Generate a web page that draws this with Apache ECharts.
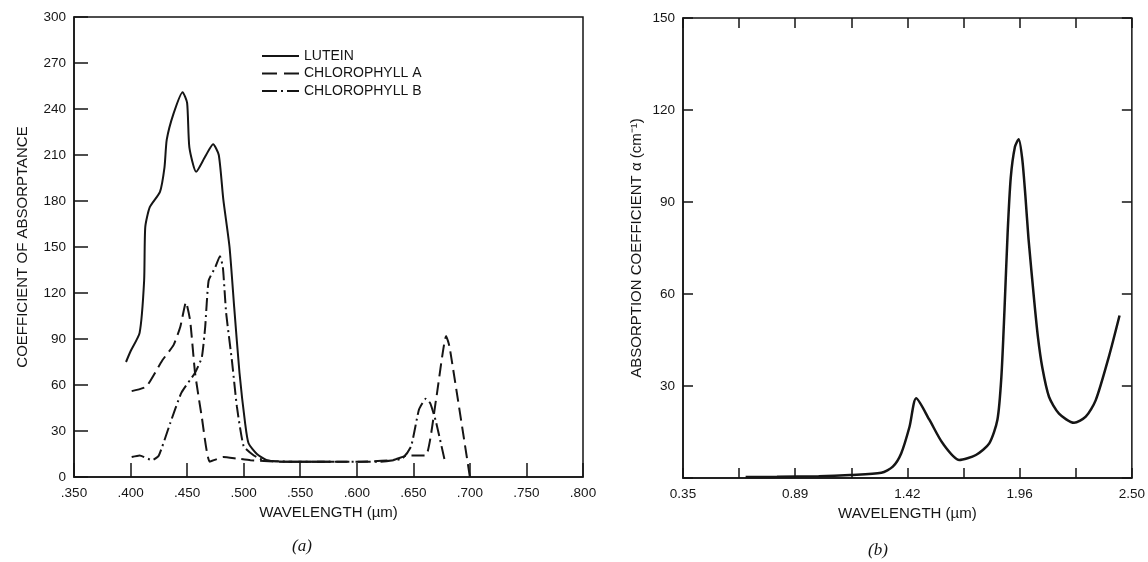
<!DOCTYPE html>
<html>
<head>
<meta charset="utf-8">
<script src="https://cdn.jsdelivr.net/npm/echarts@6/dist/echarts.min.js"></script>
<style>
  html, body { margin: 0; padding: 0; background: #fff; }
  #chart { width: 1148px; height: 562px; }
</style>
</head>
<body>
<div id="chart"></div>
<script>
"use strict";
/* ===== data ===== */
// (a) pigments: wavelength in um, coefficient of absorptance
const luteinX = [.396, .400, .408, .412, .413, .417, .426, .430, .432, .438, .446, .450, .452, .458, .466, .473, .478, .482, .4875, .4916, .4963, .5013, .5043, .5117, .5205, .540, .560, .580];
const luteinY = [75, 82, 94, 128, 163, 176, 186, 202, 220, 237, 251, 244, 215, 199, 209, 217, 210, 181, 150, 111, 68, 35, 22, 15, 11, 10, 10, 10];
const chlAX = [.401, .414, .428, .438, .444, .449, .4527, .457, .463, .470, .482, .494, .506, .530, .560, .600, .632, .645, .661, .670, .679, .682, .700];
const chlAY = [56, 59, 76, 86, 98, 114, 102, 68, 39, 10, 13, 12, 11, 10, 10, 10, 11, 14, 14, 50, 92, 85, 0];
const chlBX = [.401, .408, .419, .425, .435, .445, .457, .463, .466, .469, .475, .479, .4816, .4845, .4896, .494, .500, .509, .5175, .540, .580, .620, .640, .648, .655, .661, .665, .670, .678];
const chlBY = [13, 14, 11, 14, 35, 55, 68, 78, 98, 128, 137, 144, 137, 107, 76, 46, 20, 14, 11, 10, 10, 10, 12, 20, 44, 51, 48, 36, 10];
// (b) water absorption coefficient (cm^-1)
const waterX = [0.65, 0.80, 1.00, 1.15, 1.30, 1.355, 1.395, 1.435, 1.467, 1.53, 1.594, 1.673, 1.753, 1.817, 1.856, 1.875, 1.89, 1.905, 1.92, 1.94, 1.958, 1.975, 1.99, 2.005, 2.032, 2.05, 2.071, 2.103, 2.151, 2.223, 2.279, 2.327, 2.39, 2.441];
const waterY = [0.3, 0.4, 0.6, 1.0, 1.7, 3.7, 8, 16.7, 26, 19, 11.3, 5.9, 7.5, 11.3, 19, 33, 55, 80, 98, 108, 110.5, 104, 92, 78, 58, 46, 36, 26.5, 21, 18, 20, 25.4, 39.6, 53];
// tick labels of (b) x axis, one per two ticks
const waterTickLabels = ["0.35", "0.89", "1.42", "1.96", "2.50"];
const waterTickStep = 0.26875;

function Pairs(xs, ys) {
    return xs.map((x, i) => [x, ys[i]]);
}

const ink = "#151515";
const font = "Liberation Sans";
const labelStyle = { color: ink, fontFamily: font, fontSize: 13.5 };
const nameStyle = { color: ink, fontFamily: font, fontSize: 15 };
const tickStyle = { color: ink, width: 1.5 };
const dashA = [13, 6];
const dashB = [13, 4, 2, 4];

let chart = echarts.init(document.getElementById("chart"));

let option = {
    animation: false,
    backgroundColor: "#fff",
    grid: [
        { left: 74, top: 17, width: 509, height: 460, show: true, borderColor: ink, borderWidth: 1.5 },
        { left: 683, top: 18, width: 450, height: 460, show: true, borderColor: ink, borderWidth: 1.5 }
    ],
    legend: {
        left: 256, top: 44, orient: "vertical",
        itemWidth: 37, itemHeight: 14, itemGap: 3.5,
        itemStyle: { opacity: 0 }, // hide the round marker, keep only the line
        textStyle: { color: ink, fontFamily: font, fontSize: 14 },
        data: [
            { name: "LUTEIN", lineStyle: { type: "solid" } },
            { name: "CHLOROPHYLL A", lineStyle: { type: [15, 7] } },
            { name: "CHLOROPHYLL B", lineStyle: { type: [15, 4, 2, 4] } }
        ]
    },
    xAxis: [
        {
            gridIndex: 0, type: "value", min: 0.35, max: 0.8, interval: 0.05,
            name: "WAVELENGTH (\u00b5m)", nameLocation: "middle", nameGap: 22, nameTextStyle: nameStyle,
            axisLine: { onZero: false, lineStyle: tickStyle },
            axisTick: { inside: true, length: 14, lineStyle: tickStyle },
            axisLabel: Object.assign({ margin: 9, formatter: (v) => v.toFixed(3).replace(/^0/, "") }, labelStyle),
            splitLine: { show: false }
        },
        {
            gridIndex: 1, type: "value", min: 0.35, max: 2.5, interval: waterTickStep,
            name: "WAVELENGTH (\u00b5m)", nameLocation: "middle", nameGap: 26, nameTextStyle: nameStyle,
            axisLine: { onZero: false, lineStyle: tickStyle },
            axisTick: { inside: true, length: 10, lineStyle: tickStyle },
            axisLabel: Object.assign({
                margin: 9,
                formatter: (v) => {
                    let i = Math.round((v - 0.35) / waterTickStep);
                    return i % 2 == 0 ? waterTickLabels[i / 2] : "";
                }
            }, labelStyle),
            splitLine: { show: false }
        },
        {
            // mirrored ticks on top of (b)
            gridIndex: 1, type: "value", position: "top", min: 0.35, max: 2.5, interval: waterTickStep,
            axisLine: { show: false, onZero: false },
            axisTick: { inside: true, length: 10, lineStyle: tickStyle },
            axisLabel: { show: false },
            splitLine: { show: false }
        }
    ],
    yAxis: [
        {
            gridIndex: 0, type: "value", min: 0, max: 300, interval: 30,
            name: "COEFFICIENT OF ABSORPTANCE", nameLocation: "middle", nameGap: 44, nameTextStyle: nameStyle,
            axisLine: { onZero: false, lineStyle: tickStyle },
            axisTick: { inside: true, length: 14, lineStyle: tickStyle },
            axisLabel: Object.assign({ margin: 8 }, labelStyle),
            splitLine: { show: false }
        },
        {
            gridIndex: 1, type: "value", min: 0, max: 150, interval: 30,
            name: "ABSORPTION COEFFICIENT \u03b1 (cm\u207b\u00b9)", nameLocation: "middle", nameGap: 39, nameTextStyle: nameStyle,
            axisLine: { onZero: false, lineStyle: tickStyle },
            axisTick: { inside: true, length: 10, lineStyle: tickStyle },
            axisLabel: Object.assign({ margin: 8, formatter: (v) => (v == 0 ? "" : String(v)) }, labelStyle),
            splitLine: { show: false }
        },
        {
            // mirrored ticks on the right of (b)
            gridIndex: 1, type: "value", position: "right", min: 0, max: 150, interval: 30,
            axisLine: { show: false, onZero: false },
            axisTick: { inside: true, length: 10, lineStyle: tickStyle },
            axisLabel: { show: false },
            splitLine: { show: false }
        }
    ],
    series: [
        {
            name: "LUTEIN", type: "line", xAxisIndex: 0, yAxisIndex: 0, symbol: "none", smooth: 0.2,
            lineStyle: { color: ink, width: 2 }, itemStyle: { color: ink },
            data: Pairs(luteinX, luteinY)
        },
        {
            name: "CHLOROPHYLL A", type: "line", xAxisIndex: 0, yAxisIndex: 0, symbol: "none", smooth: 0.15,
            lineStyle: { color: ink, width: 2, type: dashA }, itemStyle: { color: ink },
            data: Pairs(chlAX, chlAY)
        },
        {
            name: "CHLOROPHYLL B", type: "line", xAxisIndex: 0, yAxisIndex: 0, symbol: "none", smooth: 0.15,
            lineStyle: { color: ink, width: 2, type: dashB }, itemStyle: { color: ink },
            data: Pairs(chlBX, chlBY)
        },
        {
            name: "WATER", type: "line", xAxisIndex: 1, yAxisIndex: 1, symbol: "none", smooth: 0.25,
            lineStyle: { color: ink, width: 2.5 },
            data: Pairs(waterX, waterY)
        }
    ],
    graphic: [
        { type: "text", left: 292, top: 538, style: { text: "(a)", font: "italic 17px 'Liberation Serif'", fill: ink } },
        { type: "text", left: 868, top: 542, style: { text: "(b)", font: "italic 17px 'Liberation Serif'", fill: ink } }
    ]
};
chart.setOption(option);
</script>
</body>
</html>
